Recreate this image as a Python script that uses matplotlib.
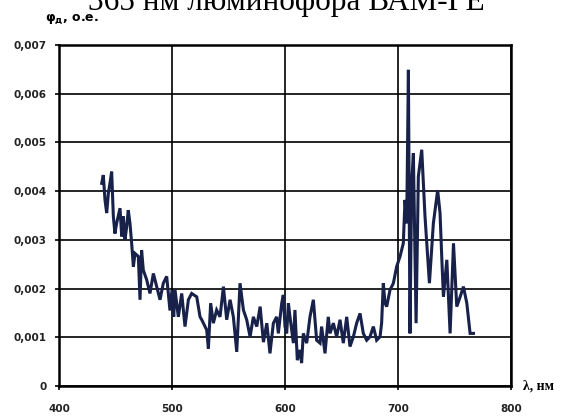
import matplotlib
matplotlib.use("Agg")
import matplotlib.pyplot as plt

wavelength = [437.8, 439.2, 440.7, 442.2, 443.7, 445.1, 446.6, 448.1, 449.5, 451.0,
              454.0, 455.5, 456.9, 458.4, 459.9, 461.3, 462.8, 464.3, 465.8, 467.3,
              470.2, 471.7, 473.1, 474.6, 477.6, 480.5, 483.5, 486.4, 489.4, 492.3,
              495.3, 498.2, 500.0, 501.5, 502.7, 505.6, 508.6, 511.5, 514.5, 517.4,
              521.9, 524.8, 526.3, 529.2, 530.7, 532.2, 534.2, 536.6, 539.5, 542.5,
              545.5, 548.4, 551.4, 554.3, 557.3, 560.2, 563.2, 566.1, 569.1, 572.0,
              575.0, 578.0, 580.9, 583.9, 586.7, 589.7, 592.6, 594.1, 597.1, 598.5,
              600.0, 601.5, 603.0, 604.4, 607.4, 608.8, 610.9, 613.3, 614.7, 616.2,
              619.2, 622.1, 625.1, 626.5, 628.0, 631.0, 632.4, 635.4, 638.3, 639.8,
              642.8, 645.7, 648.7, 651.6, 654.6, 657.5, 660.5, 663.4, 666.4, 669.3,
              672.3, 675.2, 678.2, 681.1, 684.1, 685.5, 687.0, 688.5, 690.0, 692.9,
              695.9, 698.8, 701.8, 704.7, 706.2, 707.7, 709.2, 710.6, 712.1, 713.6,
              716.0, 718.0, 721.0, 723.9, 727.8, 731.3, 735.1, 737.2, 738.7, 740.2,
              743.2, 746.1, 749.1, 752.0, 755.0, 757.9, 760.9, 763.8, 766.8]

phi = [0.00416, 0.00433, 0.00382, 0.00355, 0.00396, 0.00416, 0.00440, 0.00348, 0.00313, 0.00334,
       0.00365, 0.00307, 0.00348, 0.00300, 0.00327, 0.00361, 0.00334, 0.00293, 0.00245, 0.00272,
       0.00266, 0.00177, 0.00279, 0.00238, 0.00218, 0.00190, 0.00231, 0.00204, 0.00177, 0.00211,
       0.00225, 0.00155, 0.00197, 0.00142, 0.00197, 0.00142, 0.00190, 0.00122, 0.00177, 0.00190,
       0.00183, 0.00142, 0.00136, 0.00122, 0.00115, 0.00077, 0.00170, 0.00129, 0.00156, 0.00142,
       0.00204, 0.00136, 0.00177, 0.00142, 0.00070, 0.00211, 0.00156, 0.00136, 0.00101, 0.00142,
       0.00122, 0.00163, 0.00090, 0.00129, 0.00067, 0.00129, 0.00142, 0.00108, 0.00170, 0.00187,
       0.00122, 0.00108, 0.00170, 0.00142, 0.00088, 0.00156, 0.00053, 0.00074, 0.00047, 0.00108,
       0.00088, 0.00142, 0.00177, 0.00136, 0.00094, 0.00088, 0.00122, 0.00067, 0.00142, 0.00108,
       0.00129, 0.00101, 0.00136, 0.00088, 0.00142, 0.00081, 0.00101, 0.00129, 0.00149, 0.00108,
       0.00094, 0.00101, 0.00122, 0.00094, 0.00101, 0.00129, 0.00211, 0.00170, 0.00163, 0.00197,
       0.00211, 0.00245, 0.00266, 0.00293, 0.00382, 0.00334, 0.00649, 0.00108, 0.00416, 0.00478,
       0.00129, 0.00430, 0.00485, 0.00348, 0.00211, 0.00334, 0.00402, 0.00355, 0.00266, 0.00183,
       0.00259, 0.00108, 0.00293, 0.00163, 0.00183, 0.00204, 0.00170, 0.00108, 0.00108]

x_ticks = [400, 500, 600, 700, 800]
x_tick_labels = ["400", "500", "600", "700", "800"]
y_ticks = [0, 0.001, 0.002, 0.003, 0.004, 0.005, 0.006, 0.007]
y_tick_labels = ["0", "0,001", "0,002", "0,003", "0,004", "0,005", "0,006", "0,007"]

title_text = "365 нм люминофора ВАМ-ГЕ"
y_label = r"$\mathregular{φ_{д}}$, о.е."
x_label = "λ, нм"

fig = plt.figure(figsize=(5.71, 4.17), dpi=100)
ax = fig.add_axes([59/571, 1 - 386/417, 452/571, 341/417])

ax.plot(wavelength, phi, color="#17214a", linewidth=2.2, solid_joinstyle="miter")

ax.set_xlim(400, 800)
ax.set_ylim(0, 0.007)
ax.set_xticks(x_ticks)
ax.set_xticklabels(x_tick_labels)
ax.set_yticks(y_ticks)
ax.set_yticklabels(y_tick_labels)
ax.grid(True, color="black", linewidth=1.2)
ax.set_axisbelow(True)
for s in ax.spines.values():
    s.set_linewidth(1.8)
    s.set_color("black")
ax.tick_params(axis="both", direction="out", length=3, width=1.2, color="black",
               labelsize=7.5)
ax.tick_params(axis="x", pad=10)
ax.tick_params(axis="y", pad=6)
for lab in ax.get_xticklabels() + ax.get_yticklabels():
    lab.set_fontweight("bold")
    lab.set_color("#222222")

fig.text(88/571, 1 - 10/417, title_text, fontsize=22.5, family="Liberation Serif",
         ha="left", va="baseline")
fig.text(45/571, 1 - 19/417, y_label, fontsize=9, fontweight="bold",
         ha="left", va="center")
fig.text(523/571, 1 - 386/417, x_label, fontsize=10, fontweight="bold",
         family="Liberation Serif", ha="left", va="center")

fig.savefig("out.png", dpi=100)
